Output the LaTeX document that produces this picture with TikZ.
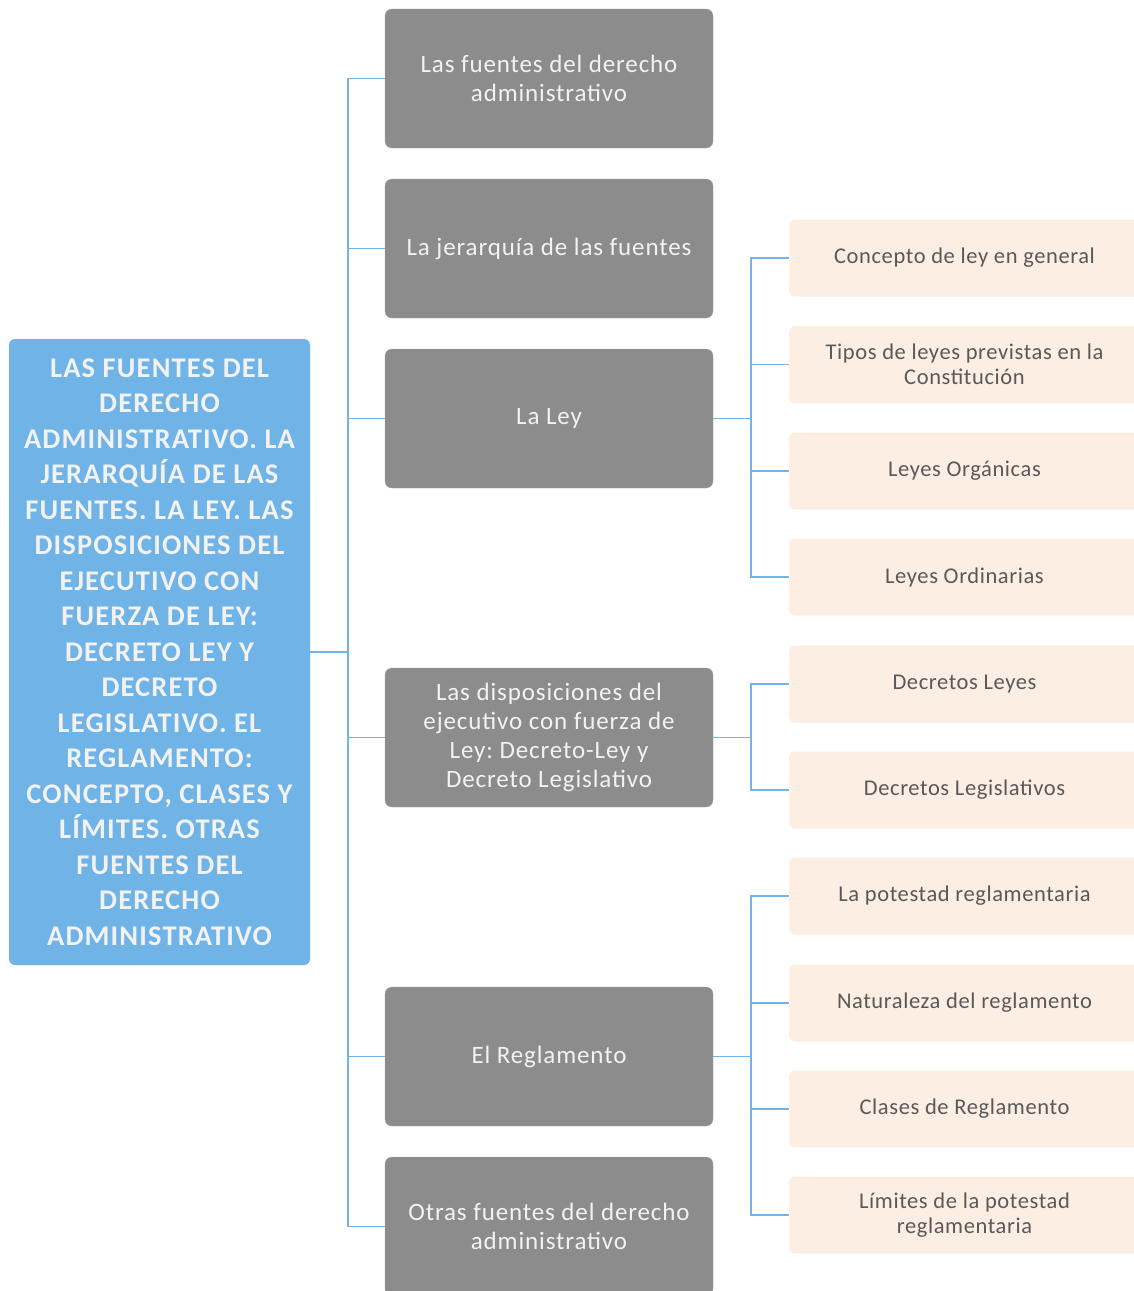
\documentclass[tikz,border=0pt]{standalone}
\usepackage{fontspec}
\setmainfont{Carlito}
\newfontfamily\raizfont[LetterSpace=4]{Carlito}
\newfontfamily\temafont[LetterSpace=3.5]{Carlito}
\newfontfamily\subfont[LetterSpace=2.7]{Carlito}
\usetikzlibrary{positioning}
\frenchspacing

\definecolor{azulraiz}{HTML}{6FB3E7}
\definecolor{azullinea}{HTML}{72B4EA}
\definecolor{grisbox}{HTML}{8C8C8C}
\definecolor{crema}{HTML}{FDEEE3}
\definecolor{gristexto}{HTML}{595959}

\begin{document}
\begin{tikzpicture}
[x=1pt,y=-1pt,
raiz/.style={rectangle,rounded corners=6pt,fill=azulraiz,text=white!95!black,inner sep=0pt,
  minimum width=301pt,minimum height=626pt,align=center,
  font=\raizfont\fontsize{28.5}{35.5}\selectfont\bfseries},
tema/.style={rectangle,rounded corners=7pt,fill=grisbox,draw=grisbox!80!white,text=white!95!black,
  inner sep=0pt,minimum width=328pt,minimum height=139pt,align=center,
  font=\temafont\fontsize{25}{29}\selectfont},
sub/.style={rectangle,rounded corners=6pt,fill=crema,text=gristexto,inner sep=0pt,
  minimum width=351pt,minimum height=77pt,align=center,
  font=\subfont\fontsize{22.5}{25}\selectfont},
linea/.style={draw=azullinea,line width=1.6pt}]
\useasboundingbox (0,0) rectangle (1134,1291);
\clip (0,0) rectangle (1134,1291);
%%%%% ROOT
\node[raiz] (raiz) at (159.5,652) {LAS FUENTES DEL\\DERECHO\\ADMINISTRATIVO. LA\\JERARQUÍA DE LAS\\FUENTES. LA LEY. LAS\\DISPOSICIONES DEL\\EJECUTIVO CON\\FUERZA DE LEY:\\DECRETO LEY Y\\DECRETO\\LEGISLATIVO. EL\\REGLAMENTO:\\CONCEPTO, CLASES Y\\LÍMITES. OTRAS\\FUENTES DEL\\DERECHO\\ADMINISTRATIVO};
%%%%% LEVEL 1
\foreach \y/\txt [count=\i] in {78.5/{Las fuentes del derecho\\administrativo},
  248.5/{La jerarquía de las fuentes},
  418.5/{La Ley},
  737.5/{Las disposiciones del\\ejecutivo con fuerza de\\Ley: Decreto-Ley y\\Decreto Legislativo},
  1056.5/{El Reglamento},
  1226.5/{Otras fuentes del derecho\\administrativo}}
{
	\node[tema] (tema\i) at (549,\y) {\txt};
};
%%%%% LEVEL 2
\foreach \y/\txt [count=\i] in {258/{Concepto de ley en general},
  364.5/{Tipos de leyes previstas en la\\Constitución},
  471/{Leyes Orgánicas},
  577/{Leyes Ordinarias},
  684/{Decretos Leyes},
  790/{Decretos Legislativos},
  896/{La potestad reglamentaria},
  1003/{Naturaleza del reglamento},
  1109/{Clases de Reglamento},
  1215/{Límites de la potestad\\reglamentaria}}
{
	\node[sub] (sub\i) at (964.5,\y) {\txt};
};
%%%%% CONNECTORS
\coordinate (tronco) at (348,652);
\draw[linea] (raiz.east) -- (tronco);
\foreach \i in {1,...,6}
	\draw[linea] (tronco) |- (tema\i.west);
\coordinate (ramaley) at (751,418.5);
\draw[linea] (tema3.east) -- (ramaley);
\foreach \i in {1,...,4}
	\draw[linea] (ramaley) |- (sub\i.west);
\coordinate (ramadecreto) at (751,737.5);
\draw[linea] (tema4.east) -- (ramadecreto);
\foreach \i in {5,6}
	\draw[linea] (ramadecreto) |- (sub\i.west);
\coordinate (ramaregl) at (751,1056.5);
\draw[linea] (tema5.east) -- (ramaregl);
\foreach \i in {7,...,10}
	\draw[linea] (ramaregl) |- (sub\i.west);
\end{tikzpicture}
\end{document}
